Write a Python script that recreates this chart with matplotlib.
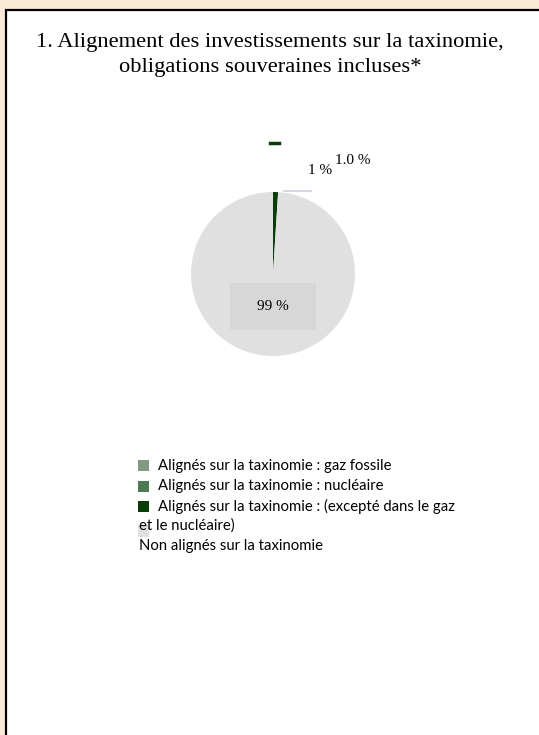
import matplotlib
matplotlib.use("Agg")
import matplotlib.pyplot as plt
from matplotlib.patches import Rectangle

W, H = 539, 735
DPI = 100

title = "1. Alignement des investissements sur la taxinomie,\nobligations souveraines incluses*"
categories = [
    "Alignés sur la taxinomie : gaz fossile",
    "Alignés sur la taxinomie : nucléaire",
    "Alignés sur la taxinomie : (excepté dans le gaz\net le nucléaire)",
    "Non alignés sur la taxinomie",
]
values = [0.0, 0.0, 1.0, 99.0]
colors = ["#7f9a80", "#4d7a55", "#0b3d0b", "#e0e0e0"]
value_labels = ["1.0 %", "1 %", "", "99 %"]

fig = plt.figure(figsize=(W / DPI, H / DPI), dpi=DPI)
fig.patch.set_facecolor("#FAEBD7")


def fx(px):
    return px / W


def fy(py):
    return 1 - py / H


# white panel with a black frame, running off the right and bottom edges
panel = Rectangle((fx(6), fy(H + 10)), fx(W + 20), fy(10) - fy(H + 10),
                  transform=fig.transFigure, facecolor="white",
                  edgecolor="black", linewidth=1.6, zorder=0)
fig.patches.append(panel)

fig.text(fx(270), fy(55), title, ha="center", va="center",
         family="Liberation Serif", fontsize=16.2, linespacing=1.38, zorder=2)

# pie
cx, cy, r = 273, 274, 82
ax = fig.add_axes([fx(cx - r), fy(cy + r), fx(2 * r), (2 * r) / H])
ax.set_zorder(2)
ax.pie(values, colors=colors, startangle=90, counterclock=False,
       wedgeprops=dict(linewidth=0))
ax.set_xlim(-1, 1)
ax.set_ylim(-1, 1)
ax.set_aspect("equal")
ax.axis("off")

# labels for the small slices
fig.add_artist(plt.Line2D([fx(270), fx(279)], [fy(143), fy(143)],
                          transform=fig.transFigure, color=colors[2], lw=2.5))
fig.text(fx(353), fy(160), value_labels[0], ha="center", va="center",
         family="Liberation Serif", fontsize=11, zorder=3)
fig.text(fx(320), fy(171), value_labels[1], ha="center", va="center",
         family="Liberation Serif", fontsize=11, zorder=3)
fig.add_artist(plt.Line2D([fx(284), fx(311)], [fy(191), fy(191)],
                          transform=fig.transFigure, color="#c9cfdc", lw=1.2))

# label of the large slice on a grey box
fig.add_artist(Rectangle((fx(230), fy(330)), fx(86), fy(283) - fy(330),
                         transform=fig.transFigure, facecolor="#d7d7d7",
                         edgecolor="none", zorder=4))
fig.text(fx(273), fy(306), value_labels[3], ha="center", va="center",
         family="Liberation Serif", fontsize=11, zorder=5)

# legend
square_rows = [466, 486, 506, 531]
text_rows = [466, 486, 506, 546]
for cat, col, ys, yt in zip(categories, colors, square_rows, text_rows):
    fig.add_artist(Rectangle((fx(138), fy(ys + 5.5)), fx(11), fy(ys - 5.5) - fy(ys + 5.5),
                             transform=fig.transFigure, facecolor=col,
                             edgecolor="none", zorder=3))
    first, _, rest = cat.partition("\n")
    x_text = 158 if ys == yt else 139
    fig.text(fx(x_text), fy(yt), first, ha="left", va="center",
             family="Lato", fontsize=10.7, zorder=4)
    if rest:
        fig.text(fx(139), fy(yt + 20), rest, ha="left", va="center",
                 family="Lato", fontsize=10.7, zorder=4)

fig.savefig("out.png", dpi=DPI, facecolor=fig.get_facecolor())
